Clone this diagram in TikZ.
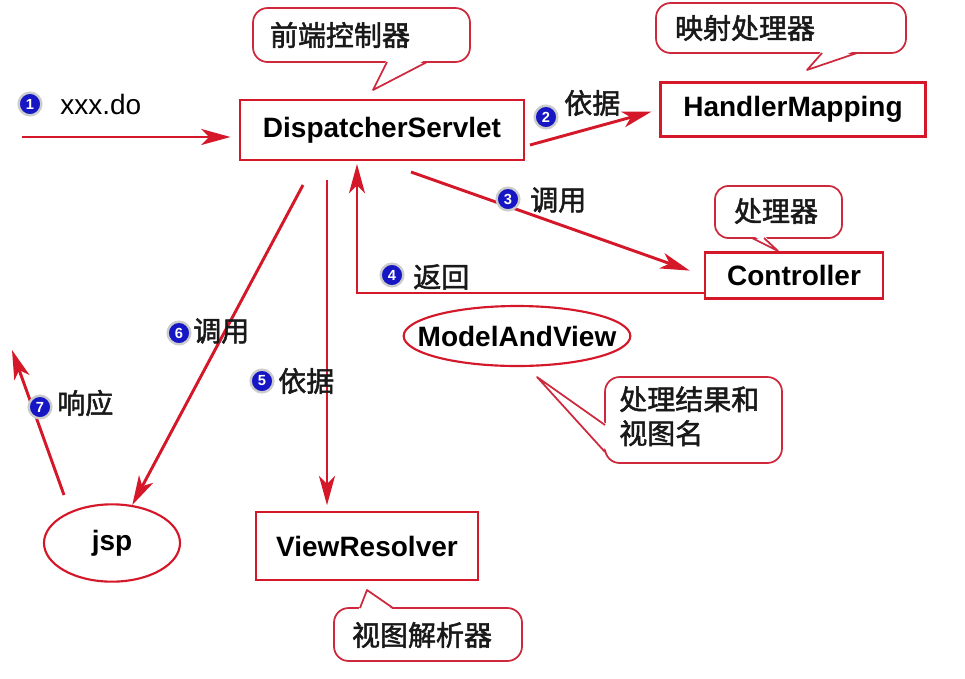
\documentclass[tikz,border=0pt]{standalone}
\usepackage{fontspec}
\setmainfont{Liberation Sans}
\newfontfamily\cjk[FakeBold=1.8]{Noto Sans CJK SC}
\usetikzlibrary{arrows.meta,shapes.geometric}
\definecolor{myred}{RGB}{212,24,42}
\definecolor{callred}{RGB}{205,40,60}
\definecolor{badgeblue}{RGB}{22,22,196}
\begin{document}
\begin{tikzpicture}[x=0.75pt,y=-0.75pt,
  box/.style={draw=myred, line width=2.2pt, fill=white, inner sep=0pt,
    font=\fontsize{21}{24}\selectfont\bfseries},
  oval/.style={ellipse, draw=myred, line width=1.6pt, fill=white, inner sep=0pt,
    font=\fontsize{21}{24}\selectfont\bfseries},
  ovalline/.style={draw=myred, line width=1.6pt},
  arr/.style={draw=myred, line width=2.2pt,
    -{Stealth[length=22pt,width=12pt,inset=6pt]}},
  badge/.style={circle, fill=badgeblue, draw=black!20, line width=1.8pt,
    minimum size=17pt, inner sep=0pt, text=white,
    font=\fontsize{11}{11}\selectfont\bfseries},
  cn/.style={font=\cjk\fontsize{21}{24}\selectfont, inner sep=0pt, text=black!90},
  en/.style={font=\fontsize{21}{24}\selectfont, inner sep=0pt},
  callout/.style={draw=callred, line width=1.3pt, fill=white, rounded corners=11pt},
  tailfill/.style={fill=white, draw=none},
  tailline/.style={draw=callred, line width=1.3pt, line join=round}
]
\useasboundingbox (0,0) rectangle (965,679);
\fill[white] (0,0) rectangle (965,679);

% callout 1
\draw[callout] (253,8) rectangle (470,62);
\fill[tailfill] (387,59) -- (373,90) -- (427,59) -- cycle;
\draw[tailline] (387,62) -- (373,90) -- (427,62);
\node[cn] (c1) at (340,35) {前端控制器};

% callout 2
\draw[callout] (656,3) rectangle (906,53);
\fill[tailfill] (822,50) -- (807,70) -- (857,50) -- cycle;
\draw[tailline] (822,53) -- (807,70) -- (857,53);
\node[cn] (c2) at (745,28) {映射处理器};

% callout 3
\draw[callout, rounded corners=10pt] (715,186) rectangle (842,238);
\fill[tailfill] (752,235) -- (778,251) -- (764,235) -- cycle;
\draw[tailline] (752,238) -- (778,251) -- (764,238);
\node[cn] (c3) at (776,211) {处理器};

% callout 4
\draw[callout] (605,377) rectangle (782,463);
\fill[tailfill] (608,425) -- (537,377) -- (608,452) -- cycle;
\draw[tailline] (605,425) -- (537,377) -- (605,452);
\node[cn, align=left, anchor=north west, font=\cjk\fontsize{21}{25.5}\selectfont] (c4) at (619,386) {处理结果和\\视图名};

% callout 5
\draw[callout] (334,608) rectangle (522,661);
\fill[tailfill] (358,611) -- (367,590) -- (395,611) -- cycle;
\draw[tailline] (360,608) -- (367,590) -- (393,608);
\node[cn] (c5) at (422,635) {视图解析器};

% boxes
\node[box, minimum width=213pt, minimum height=45pt] (ds) at (382,130) {DispatcherServlet};
\node[box, minimum width=198.5pt, minimum height=41pt] (hm) at (793,109.5) {HandlerMapping};
\node[box, minimum width=133.5pt, minimum height=34pt] (ctrl) at (794,275.5) {Controller};
\node[box, minimum width=166.5pt, minimum height=51pt] (vr) at (367,546) {ViewResolver};
\draw[ovalline, fill=white] (517,336) ellipse [x radius=85pt, y radius=22.5pt];
\node[font=\fontsize{21}{24}\selectfont\bfseries, inner sep=0pt] (mav) at (517,336) {ModelAndView};
\node[oval, minimum width=102pt, minimum height=58pt] (jsp) at (112,543) {jsp};

% coordinates
\coordinate (a1s) at (22,137);
\coordinate (a2s) at (530,145);
\coordinate (a3s) at (411,172);
\coordinate (a4s) at (704,293);
\coordinate (a4c) at (357,293);
\coordinate (a4e) at (357,164);
\coordinate (a5s) at (327,180);
\coordinate (a6s) at (303,185);
\coordinate (a7s) at (64,495);
\coordinate (a7e) at (12,350);

% arrows
\draw[arr, shorten >=6pt] (a1s) -- (a1s -| ds.west);
\draw[arr, shorten >=6pt] (a2s) -- (hm.west);
\draw[arr, shorten >=11pt] (a3s) -- (ctrl.west);
\draw[arr] (a4s) -- (a4c) -- (a4e);
\draw[arr, shorten >=4pt] (a5s) -- (a5s |- vr.north);
\draw[arr] (a6s) -- (jsp);
\draw[arr] (a7s) -- (a7e);

% badges and labels
\node[badge] (b1) at (30,104) {1};
\node[en, anchor=west] (t1) at (60,104) {xxx.do};
\node[badge] (b2) at (546,117) {2};
\node[cn, anchor=west] (t2) at (564,103) {依据};
\node[badge] (b3) at (508,199) {3};
\node[cn, anchor=west] (t3) at (530,200) {调用};
\node[badge] (b4) at (392,275) {4};
\node[cn, anchor=west] (t4) at (413,277) {返回};
\node[badge] (b5) at (262,381) {5};
\node[cn, anchor=west] (t5) at (278,381) {依据};
\node[badge] (b6) at (179,333) {6};
\node[cn, anchor=west] (t6) at (193,331) {调用};
\node[badge] (b7) at (40,407) {7};
\node[cn, anchor=west] (t7) at (57,403) {响应};
\end{tikzpicture}
\end{document}
